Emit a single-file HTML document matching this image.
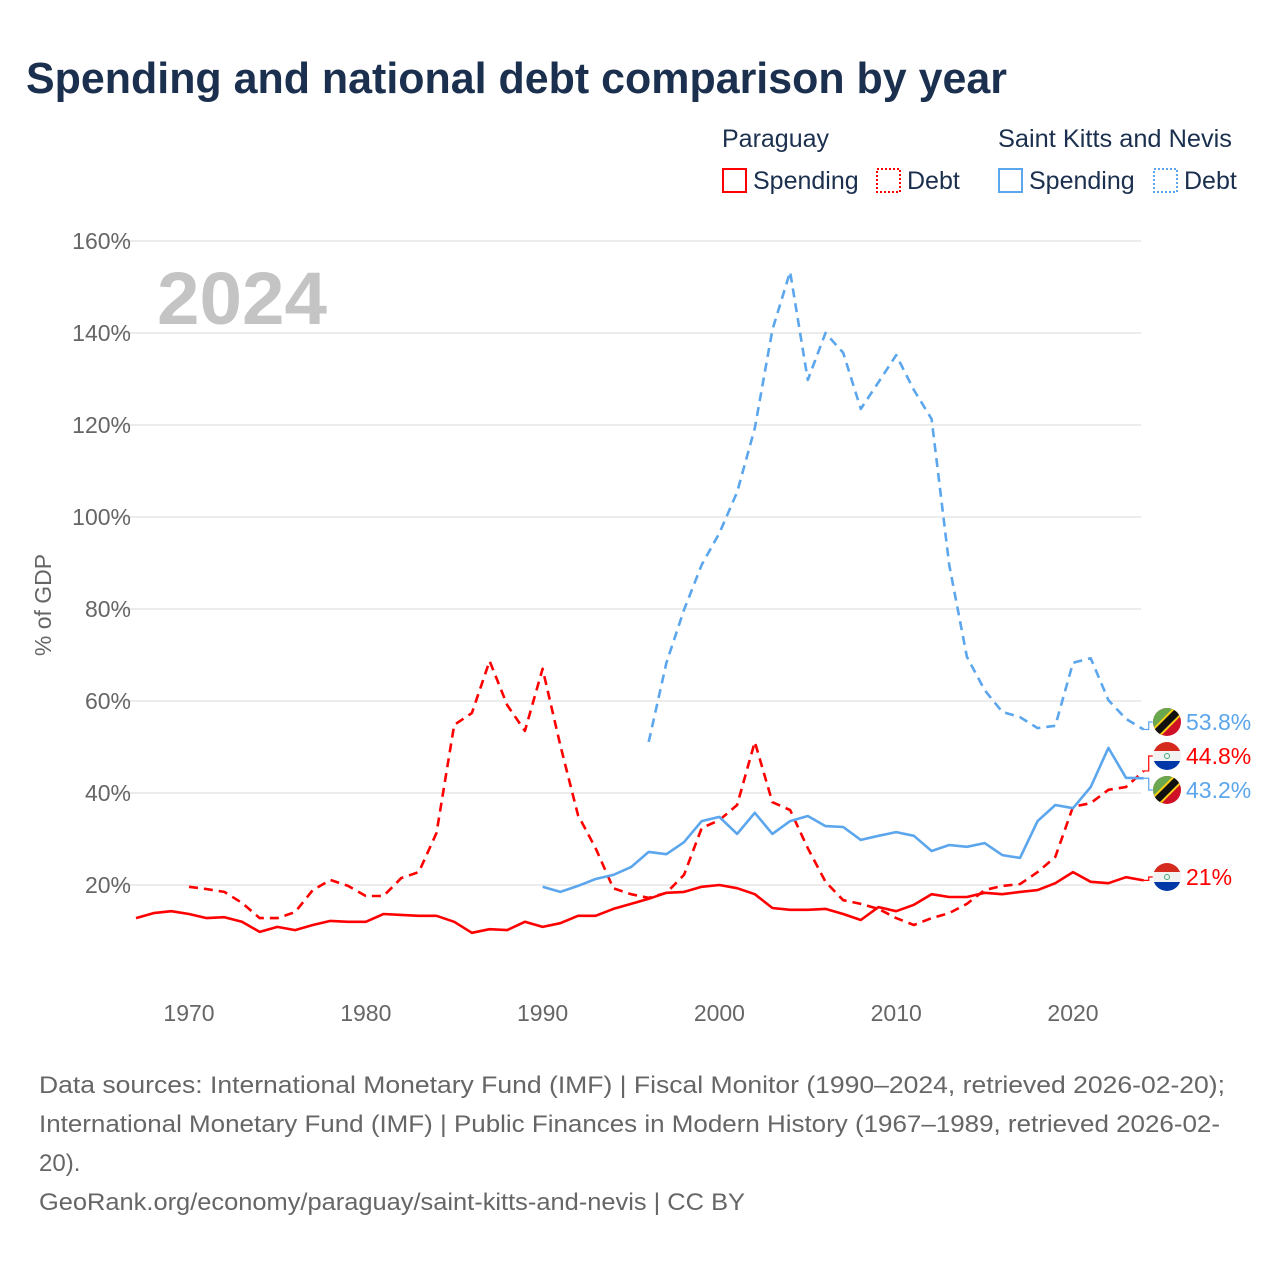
<!DOCTYPE html>
<html><head><meta charset="utf-8">
<style>
body{margin:0;background:#fff;font-family:"Liberation Sans",sans-serif;}
#wrap{position:relative;width:1280px;height:1280px;overflow:hidden;}
</style></head>
<body>
<div id="wrap">
<svg id="chart" width="1280" height="1280" xmlns="http://www.w3.org/2000/svg">
<text x="26" y="93" font-size="44" font-weight="bold" fill="#1b2f4e" textLength="981" lengthAdjust="spacingAndGlyphs">Spending and national debt comparison by year</text>
<g font-size="25" fill="#1b2f4e">
<text x="722" y="147">Paraguay</text>
<rect x="723" y="169" width="23" height="23" fill="none" stroke="#f00" stroke-width="2"/>
<text x="753" y="189">Spending</text>
<rect x="877" y="169" width="23" height="23" fill="none" stroke="#f00" stroke-width="2" stroke-dasharray="2,2"/>
<text x="907" y="189">Debt</text>
<text x="998" y="147" textLength="234" lengthAdjust="spacingAndGlyphs">Saint Kitts and Nevis</text>
<rect x="999" y="169" width="23" height="23" fill="none" stroke="#5ba6ec" stroke-width="2"/>
<text x="1029" y="189">Spending</text>
<rect x="1154" y="169" width="23" height="23" fill="none" stroke="#5ba6ec" stroke-width="2" stroke-dasharray="2,2"/>
<text x="1184" y="189">Debt</text>
</g>
<g id="grid"></g>
<text x="157" y="324" font-size="74" font-weight="bold" fill="#c4c4c4" textLength="170" lengthAdjust="spacingAndGlyphs">2024</text>
<text transform="translate(51,605) rotate(-90)" text-anchor="middle" font-size="23" fill="#666">% of GDP</text>
<g id="series"></g>
<g id="labels"></g>
<g font-size="24" fill="#666">
<text x="39" y="1093" textLength="1186" lengthAdjust="spacingAndGlyphs">Data sources: International Monetary Fund (IMF) | Fiscal Monitor (1990–2024, retrieved 2026-02-20);</text>
<text x="39" y="1132" textLength="1181" lengthAdjust="spacingAndGlyphs">International Monetary Fund (IMF) | Public Finances in Modern History (1967–1989, retrieved 2026-02-</text>
<text x="39" y="1171">20).</text>
<text x="39" y="1210" textLength="706" lengthAdjust="spacingAndGlyphs">GeoRank.org/economy/paraguay/saint-kitts-and-nevis | CC BY</text>
</g>
</svg>
</div>
<script>
const yTicks = [20,40,60,80,100,120,140,160];
const xTicks = [1970,1980,1990,2000,2010,2020];
const pySpendStart = 1967;
const pySpend = [12.8,13.9,14.3,13.7,12.8,13.0,12.0,9.8,10.9,10.2,11.3,12.2,12.0,12.0,13.7,13.5,13.3,13.3,12.0,9.6,10.4,10.2,12.0,10.9,11.7,13.3,13.3,14.8,15.9,17.0,18.3,18.5,19.6,20.0,19.3,18.0,15.0,14.6,14.6,14.8,13.7,12.4,15.2,14.3,15.7,18.0,17.4,17.4,18.3,18.0,18.5,18.9,20.4,22.8,20.7,20.4,21.7,21.0];
const pyDebtStart = 1970;
const pyDebt = [19.6,19.1,18.5,16.1,12.8,12.8,14.1,18.9,21.1,19.8,17.6,17.6,21.5,22.8,31.3,54.8,57.4,68.7,59.1,53.5,67.0,50.4,35.2,28.0,19.3,18.0,17.2,18.3,22.2,32.4,34.1,37.4,51.1,38.0,36.3,28.0,20.7,16.7,15.9,14.8,12.8,11.3,12.8,13.9,15.9,18.9,19.8,20.2,22.8,26.1,37.0,37.8,40.7,41.3,44.8];
const sknSpendStart = 1990;
const sknSpend = [19.6,18.5,19.8,21.3,22.2,23.9,27.2,26.7,29.3,33.9,34.8,31.1,35.7,31.1,33.9,35.0,32.8,32.6,29.8,30.7,31.5,30.7,27.4,28.7,28.3,29.1,26.5,25.9,33.9,37.4,36.7,41.3,49.8,43.3,43.2];
const sknDebtStart = 1996;
const sknDebt = [51.1,68.3,79.8,89.6,96.5,105.4,119.3,140.7,153.3,129.8,140.0,135.7,123.5,129.3,135.2,127.6,121.3,89.6,69.6,62.4,57.6,56.5,54.1,54.6,68.3,69.3,60.2,56.1,53.8];

const NS='http://www.w3.org/2000/svg';
const X = yr => 189 + (yr-1970)*17.68;
const Y = v => 977 - v*4.6;
function mk(tag, attrs, parent){const e=document.createElementNS(NS,tag);for(const k in attrs)e.setAttribute(k,attrs[k]);parent.appendChild(e);return e;}
const grid=document.getElementById('grid');
yTicks.forEach(t=>{
  const l=mk('line',{x1:112,x2:1141,y1:Y(t),y2:Y(t),stroke:'#e6e6e6','stroke-width':1.5},grid);
  
  
  const tx=mk('text',{x:131,y:Y(t)+8,'text-anchor':'end','font-size':23,fill:'#666'},grid);
  tx.textContent=t+'%';
  
  
});
xTicks.forEach(t=>{
  const tx=mk('text',{x:X(t),y:1021,'text-anchor':'middle','font-size':23,fill:'#666'},grid);
  tx.textContent=t;
  
  
});
const series=document.getElementById('series');
function line(start, vals, color, dash, name){
  const d=vals.map((v,i)=>(i?'L':'M')+X(start+i).toFixed(1)+','+Y(v).toFixed(1)).join('');
  const p=mk('path',{d:d,fill:'none',stroke:color,'stroke-width':2.6,'stroke-linejoin':'round'},series);
  if(dash)p.setAttribute('stroke-dasharray','9,6');
  
  
}
line(pyDebtStart,pyDebt,'#ff0000',true,'paraguay-debt-line');
line(sknDebtStart,sknDebt,'#5ba6ec',true,'skn-debt-line');
line(sknSpendStart,sknSpend,'#5ba6ec',false,'skn-spending-line');
line(pySpendStart,pySpend,'#ff0000',false,'paraguay-spending-line');

const labels=document.getElementById('labels');
const ends=[
 {v:sknDebt[sknDebt.length-1],ly:722,c:'#5ba6ec',flag:'skn',txt:'53.8%',n:'skn-debt'},
 {v:pyDebt[pyDebt.length-1],ly:756,c:'#ff0000',flag:'py',txt:'44.8%',n:'py-debt'},
 {v:sknSpend[sknSpend.length-1],ly:790,c:'#5ba6ec',flag:'skn',txt:'43.2%',n:'skn-spending'},
 {v:pySpend[pySpend.length-1],ly:877,c:'#ff0000',flag:'py',txt:'21%',n:'py-spending'}
];
ends.forEach(e=>{
  const x0=X(2024), y0=Y(e.v);
  const c=mk('path',{d:`M${x0},${y0}H${x0+5}V${e.ly}H${x0+9}`,fill:'none',stroke:e.c,'stroke-width':1.2},labels);
  
  
  const g=mk('g',{transform:`translate(1167,${e.ly})`},labels);
  
  
  mk('clipPath',{id:'cp'+e.n},g).appendChild(document.createElementNS(NS,'circle')).setAttribute('r',14);
  const inner=mk('g',{'clip-path':`url(#cp${e.n})`},g);
  if(e.flag==='py'){
    mk('rect',{x:-15,y:-15,width:30,height:10,fill:'#d52b1e'},inner);
    mk('rect',{x:-15,y:-5,width:30,height:10,fill:'#f2f2f2'},inner);
    mk('rect',{x:-15,y:5,width:30,height:10,fill:'#0038a8'},inner);
    mk('circle',{r:2.5,fill:'none',stroke:'#4a7',cx:0,cy:0},inner);
  } else {
    mk('rect',{x:-15,y:-15,width:30,height:30,fill:'#ce1126'},inner);
    mk('polygon',{points:'-15,-15 15,-15 -15,15',fill:'#6aa84f'},inner);
    mk('line',{x1:-17,y1:17,x2:17,y2:-17,stroke:'#fcd116','stroke-width':11},inner);
    mk('line',{x1:-17,y1:17,x2:17,y2:-17,stroke:'#111','stroke-width':7},inner);
  }
  const t=mk('text',{x:1186,y:e.ly+8,'font-size':23,fill:e.c},labels);
  t.textContent=e.txt;
  
  
});
</script>
</body></html>
